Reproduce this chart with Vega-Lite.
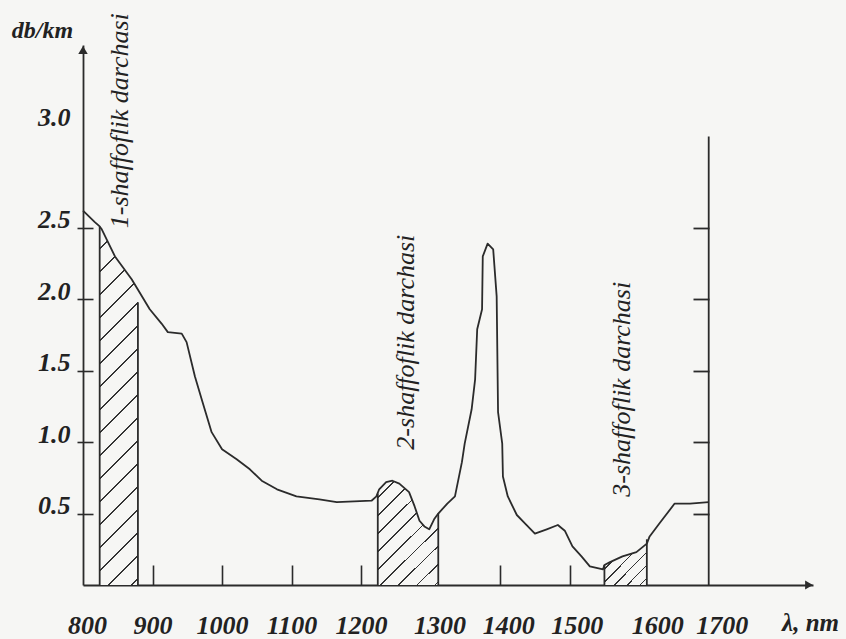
{
  "$schema": "https://vega.github.io/schema/vega-lite/v6.json",
  "width": 730,
  "height": 540,
  "autosize": "none",
  "padding": {"left": 83, "top": 45, "right": 33, "bottom": 54},
  "background": "#f6f6f4",
  "config": {"view": {"stroke": null}, "font": "Liberation Serif"},
  "datasets": {
    "curve": [
      {"nm": 800, "val": 2.62}, {"nm": 817, "val": 2.54}, {"nm": 824, "val": 2.51}, {"nm": 827, "val": 2.49},
      {"nm": 846, "val": 2.30}, {"nm": 870, "val": 2.14}, {"nm": 896, "val": 1.93}, {"nm": 913, "val": 1.83},
      {"nm": 922, "val": 1.77}, {"nm": 942, "val": 1.76}, {"nm": 949, "val": 1.70}, {"nm": 961, "val": 1.46},
      {"nm": 972, "val": 1.28}, {"nm": 985, "val": 1.07}, {"nm": 1000, "val": 0.95}, {"nm": 1021, "val": 0.88},
      {"nm": 1040, "val": 0.81}, {"nm": 1057, "val": 0.73}, {"nm": 1079, "val": 0.67}, {"nm": 1107, "val": 0.62},
      {"nm": 1140, "val": 0.60}, {"nm": 1165, "val": 0.58}, {"nm": 1215, "val": 0.59}, {"nm": 1222, "val": 0.62},
      {"nm": 1226, "val": 0.67}, {"nm": 1236, "val": 0.72}, {"nm": 1245, "val": 0.73}, {"nm": 1255, "val": 0.71},
      {"nm": 1269, "val": 0.65}, {"nm": 1277, "val": 0.55}, {"nm": 1284, "val": 0.45}, {"nm": 1291, "val": 0.41},
      {"nm": 1298, "val": 0.39}, {"nm": 1305, "val": 0.46}, {"nm": 1311, "val": 0.50}, {"nm": 1324, "val": 0.57},
      {"nm": 1335, "val": 0.62}, {"nm": 1345, "val": 0.86}, {"nm": 1349, "val": 0.99}, {"nm": 1359, "val": 1.23},
      {"nm": 1364, "val": 1.44}, {"nm": 1367, "val": 1.79}, {"nm": 1374, "val": 1.93}, {"nm": 1375, "val": 2.30},
      {"nm": 1382, "val": 2.39}, {"nm": 1390, "val": 2.35}, {"nm": 1395, "val": 2.02}, {"nm": 1397, "val": 1.21},
      {"nm": 1403, "val": 0.99}, {"nm": 1404, "val": 0.76}, {"nm": 1411, "val": 0.62}, {"nm": 1424, "val": 0.49},
      {"nm": 1436, "val": 0.43}, {"nm": 1450, "val": 0.36}, {"nm": 1467, "val": 0.39}, {"nm": 1483, "val": 0.42},
      {"nm": 1493, "val": 0.38}, {"nm": 1504, "val": 0.27}, {"nm": 1517, "val": 0.20}, {"nm": 1529, "val": 0.13},
      {"nm": 1548, "val": 0.11}, {"nm": 1550, "val": 0.14}, {"nm": 1558, "val": 0.16}, {"nm": 1576, "val": 0.20},
      {"nm": 1596, "val": 0.23}, {"nm": 1611, "val": 0.29}, {"nm": 1615, "val": 0.34}, {"nm": 1629, "val": 0.43},
      {"nm": 1651, "val": 0.57}, {"nm": 1673, "val": 0.57}, {"nm": 1700, "val": 0.58}
    ],
    "windows": [
      {"win": 1, "nm": 824, "val": 2.51}, {"win": 1, "nm": 827, "val": 2.49}, {"win": 1, "nm": 846, "val": 2.30},
      {"win": 1, "nm": 870, "val": 2.14}, {"win": 1, "nm": 879, "val": 2.07},
      {"win": 2, "nm": 1224, "val": 0.64}, {"win": 2, "nm": 1226, "val": 0.67}, {"win": 2, "nm": 1236, "val": 0.72},
      {"win": 2, "nm": 1245, "val": 0.73}, {"win": 2, "nm": 1255, "val": 0.71}, {"win": 2, "nm": 1269, "val": 0.65},
      {"win": 2, "nm": 1277, "val": 0.55}, {"win": 2, "nm": 1284, "val": 0.45}, {"win": 2, "nm": 1291, "val": 0.41},
      {"win": 2, "nm": 1298, "val": 0.39}, {"win": 2, "nm": 1305, "val": 0.46}, {"win": 2, "nm": 1311, "val": 0.50},
      {"win": 3, "nm": 1550, "val": 0.14}, {"win": 3, "nm": 1558, "val": 0.16}, {"win": 3, "nm": 1576, "val": 0.20},
      {"win": 3, "nm": 1596, "val": 0.23}, {"win": 3, "nm": 1611, "val": 0.29}
    ],
    "edges": [
      {"nm": 824, "top": 2.51}, {"nm": 879, "top": 1.98}, {"nm": 1224, "top": 0.64},
      {"nm": 1311, "top": 0.50}, {"nm": 1550, "top": 0.14}, {"nm": 1611, "top": 0.32}
    ],
    "notes": [
      {"nm": 853, "val": 3.25, "text": "1-shaffoflik darchasi"},
      {"nm": 1265, "val": 1.70, "text": "2-shaffoflik darchasi"},
      {"nm": 1575, "val": 1.37, "text": "3-shaffoflik darchasi"}
    ],
    "arrows": [
      {"dir": "up", "nm": 800, "val": 3.78},
      {"dir": "right", "nm": 1850, "val": 0}
    ]
  },
  "layer": [
    {
      "data": {"name": "windows"},
      "transform": [{"filter": "datum.win == 1"}],
      "mark": {"type": "area", "stroke": null, "fill": {"gradient": "linear", "x1": 0, "y1": 0, "x2": 0.117, "y2": 1.094, "stops": [
        {"offset": 0, "color": "#f6f6f4"},
        {"offset": 0.053, "color": "#f6f6f4"}, {"offset": 0.053, "color": "#333333"}, {"offset": 0.058, "color": "#333333"}, {"offset": 0.058, "color": "#f6f6f4"},
        {"offset": 0.111, "color": "#f6f6f4"}, {"offset": 0.111, "color": "#333333"}, {"offset": 0.116, "color": "#333333"}, {"offset": 0.116, "color": "#f6f6f4"},
        {"offset": 0.169, "color": "#f6f6f4"}, {"offset": 0.169, "color": "#333333"}, {"offset": 0.174, "color": "#333333"}, {"offset": 0.174, "color": "#f6f6f4"},
        {"offset": 0.227, "color": "#f6f6f4"}, {"offset": 0.227, "color": "#333333"}, {"offset": 0.232, "color": "#333333"}, {"offset": 0.232, "color": "#f6f6f4"},
        {"offset": 0.285, "color": "#f6f6f4"}, {"offset": 0.285, "color": "#333333"}, {"offset": 0.290, "color": "#333333"}, {"offset": 0.290, "color": "#f6f6f4"},
        {"offset": 0.343, "color": "#f6f6f4"}, {"offset": 0.343, "color": "#333333"}, {"offset": 0.348, "color": "#333333"}, {"offset": 0.348, "color": "#f6f6f4"},
        {"offset": 0.401, "color": "#f6f6f4"}, {"offset": 0.401, "color": "#333333"}, {"offset": 0.406, "color": "#333333"}, {"offset": 0.406, "color": "#f6f6f4"},
        {"offset": 0.459, "color": "#f6f6f4"}, {"offset": 0.459, "color": "#333333"}, {"offset": 0.464, "color": "#333333"}, {"offset": 0.464, "color": "#f6f6f4"},
        {"offset": 0.517, "color": "#f6f6f4"}, {"offset": 0.517, "color": "#333333"}, {"offset": 0.522, "color": "#333333"}, {"offset": 0.522, "color": "#f6f6f4"},
        {"offset": 0.575, "color": "#f6f6f4"}, {"offset": 0.575, "color": "#333333"}, {"offset": 0.580, "color": "#333333"}, {"offset": 0.580, "color": "#f6f6f4"},
        {"offset": 0.633, "color": "#f6f6f4"}, {"offset": 0.633, "color": "#333333"}, {"offset": 0.638, "color": "#333333"}, {"offset": 0.638, "color": "#f6f6f4"},
        {"offset": 0.691, "color": "#f6f6f4"}, {"offset": 0.691, "color": "#333333"}, {"offset": 0.696, "color": "#333333"}, {"offset": 0.696, "color": "#f6f6f4"},
        {"offset": 0.749, "color": "#f6f6f4"}, {"offset": 0.749, "color": "#333333"}, {"offset": 0.754, "color": "#333333"}, {"offset": 0.754, "color": "#f6f6f4"},
        {"offset": 0.807, "color": "#f6f6f4"}, {"offset": 0.807, "color": "#333333"}, {"offset": 0.812, "color": "#333333"}, {"offset": 0.812, "color": "#f6f6f4"},
        {"offset": 0.865, "color": "#f6f6f4"}, {"offset": 0.865, "color": "#333333"}, {"offset": 0.870, "color": "#333333"}, {"offset": 0.870, "color": "#f6f6f4"},
        {"offset": 0.923, "color": "#f6f6f4"}, {"offset": 0.923, "color": "#333333"}, {"offset": 0.928, "color": "#333333"}, {"offset": 0.928, "color": "#f6f6f4"},
        {"offset": 0.981, "color": "#f6f6f4"}, {"offset": 0.981, "color": "#333333"}, {"offset": 0.986, "color": "#333333"}, {"offset": 0.986, "color": "#f6f6f4"},
        {"offset": 1, "color": "#f6f6f4"}
      ]}},
      "encoding": {
        "x": {"field": "nm", "type": "quantitative", "scale": {"domain": [800, 1850], "nice": false, "zero": false}, "axis": null},
        "y": {"field": "val", "type": "quantitative", "scale": {"domain": [0, 3.78], "nice": false}, "axis": null}
      }
    },
    {
      "data": {"name": "windows"},
      "transform": [{"filter": "datum.win == 2"}],
      "mark": {"type": "area", "stroke": null, "fill": {"gradient": "linear", "x1": 0, "y1": 0, "x2": 0.680, "y2": 1.184, "stops": [
        {"offset": 0, "color": "#f6f6f4"},
        {"offset": 0.099, "color": "#f6f6f4"}, {"offset": 0.099, "color": "#333333"}, {"offset": 0.110, "color": "#333333"}, {"offset": 0.110, "color": "#f6f6f4"},
        {"offset": 0.208, "color": "#f6f6f4"}, {"offset": 0.208, "color": "#333333"}, {"offset": 0.219, "color": "#333333"}, {"offset": 0.219, "color": "#f6f6f4"},
        {"offset": 0.318, "color": "#f6f6f4"}, {"offset": 0.318, "color": "#333333"}, {"offset": 0.329, "color": "#333333"}, {"offset": 0.329, "color": "#f6f6f4"},
        {"offset": 0.427, "color": "#f6f6f4"}, {"offset": 0.427, "color": "#333333"}, {"offset": 0.438, "color": "#333333"}, {"offset": 0.438, "color": "#f6f6f4"},
        {"offset": 0.537, "color": "#f6f6f4"}, {"offset": 0.537, "color": "#333333"}, {"offset": 0.548, "color": "#333333"}, {"offset": 0.548, "color": "#f6f6f4"},
        {"offset": 0.647, "color": "#f6f6f4"}, {"offset": 0.647, "color": "#333333"}, {"offset": 0.658, "color": "#333333"}, {"offset": 0.658, "color": "#f6f6f4"},
        {"offset": 0.756, "color": "#f6f6f4"}, {"offset": 0.756, "color": "#333333"}, {"offset": 0.767, "color": "#333333"}, {"offset": 0.767, "color": "#f6f6f4"},
        {"offset": 0.866, "color": "#f6f6f4"}, {"offset": 0.866, "color": "#333333"}, {"offset": 0.877, "color": "#333333"}, {"offset": 0.877, "color": "#f6f6f4"},
        {"offset": 0.975, "color": "#f6f6f4"}, {"offset": 0.975, "color": "#333333"}, {"offset": 0.986, "color": "#333333"}, {"offset": 0.986, "color": "#f6f6f4"},
        {"offset": 1, "color": "#f6f6f4"}
      ]}},
      "encoding": {
        "x": {"field": "nm", "type": "quantitative", "scale": {"domain": [800, 1850], "nice": false, "zero": false}, "axis": null},
        "y": {"field": "val", "type": "quantitative", "scale": {"domain": [0, 3.78], "nice": false}, "axis": null}
      }
    },
    {
      "data": {"name": "windows"},
      "transform": [{"filter": "datum.win == 3"}],
      "mark": {"type": "area", "stroke": null, "fill": {"gradient": "linear", "x1": 0, "y1": 0, "x2": 1.013, "y2": 0.987, "stops": [
        {"offset": 0, "color": "#f6f6f4"},
        {"offset": 0.133, "color": "#f6f6f4"}, {"offset": 0.133, "color": "#333333"}, {"offset": 0.155, "color": "#333333"}, {"offset": 0.155, "color": "#f6f6f4"},
        {"offset": 0.288, "color": "#f6f6f4"}, {"offset": 0.288, "color": "#333333"}, {"offset": 0.310, "color": "#333333"}, {"offset": 0.310, "color": "#f6f6f4"},
        {"offset": 0.443, "color": "#f6f6f4"}, {"offset": 0.443, "color": "#333333"}, {"offset": 0.465, "color": "#333333"}, {"offset": 0.465, "color": "#f6f6f4"},
        {"offset": 0.598, "color": "#f6f6f4"}, {"offset": 0.598, "color": "#333333"}, {"offset": 0.620, "color": "#333333"}, {"offset": 0.620, "color": "#f6f6f4"},
        {"offset": 0.753, "color": "#f6f6f4"}, {"offset": 0.753, "color": "#333333"}, {"offset": 0.775, "color": "#333333"}, {"offset": 0.775, "color": "#f6f6f4"},
        {"offset": 0.908, "color": "#f6f6f4"}, {"offset": 0.908, "color": "#333333"}, {"offset": 0.930, "color": "#333333"}, {"offset": 0.930, "color": "#f6f6f4"},
        {"offset": 1, "color": "#f6f6f4"}
      ]}},
      "encoding": {
        "x": {"field": "nm", "type": "quantitative", "scale": {"domain": [800, 1850], "nice": false, "zero": false}, "axis": null},
        "y": {"field": "val", "type": "quantitative", "scale": {"domain": [0, 3.78], "nice": false}, "axis": null}
      }
    },
    {
      "data": {"name": "edges"},
      "mark": {"type": "rule", "color": "#2b2b2b", "strokeWidth": 1.8},
      "encoding": {
        "x": {"field": "nm", "type": "quantitative", "scale": {"domain": [800, 1850], "nice": false, "zero": false},
          "axis": {"orient": "bottom", "offset": -20, "values": [900, 1000, 1100, 1200, 1400, 1500], "domain": false, "labels": false, "ticks": true, "tickSize": 20, "tickWidth": 1.6, "tickColor": "#2b2b2b", "grid": false, "title": null}},
        "y": {"field": "top", "type": "quantitative", "scale": {"domain": [0, 3.78], "nice": false},
          "axis": {"orient": "left", "offset": -10, "values": [0.5, 1, 1.5, 2, 2.5], "domain": false, "labels": false, "ticks": true, "tickSize": 10, "tickWidth": 1.6, "tickColor": "#2b2b2b", "grid": false, "title": null}},
        "y2": {"datum": 0}
      }
    },
    {
      "data": {"values": [{"nm": 1700, "top": 3.14}]},
      "mark": {"type": "rule", "color": "#2b2b2b", "strokeWidth": 1.8},
      "encoding": {
        "x": {"field": "nm", "type": "quantitative", "scale": {"domain": [800, 1850], "nice": false, "zero": false}, "axis": null},
        "y": {"field": "top", "type": "quantitative", "scale": {"domain": [0, 3.78], "nice": false},
          "axis": {"orient": "left", "offset": -626, "values": [0.5, 1, 1.5, 2, 2.5], "domain": false, "labels": false, "ticks": true, "tickSize": 16, "tickWidth": 1.8, "tickColor": "#2b2b2b", "grid": false, "title": null}},
        "y2": {"datum": 0}
      }
    },
    {
      "data": {"name": "curve"},
      "mark": {"type": "line", "color": "#2b2b2b", "strokeWidth": 1.8, "strokeJoin": "round"},
      "encoding": {
        "x": {"field": "nm", "type": "quantitative", "scale": {"domain": [800, 1850], "nice": false, "zero": false},
          "axis": {"orient": "bottom", "values": [800, 900, 1000, 1100, 1200, 1300, 1400, 1500, 1600, 1700], "format": "d",
            "domain": true, "domainColor": "#2b2b2b", "domainWidth": 1.8, "ticks": false, "grid": false,
            "labelFont": "Liberation Serif", "labelFontSize": 26, "labelFontStyle": "italic", "labelFontWeight": "bold", "labelColor": "#222222",
            "labelBaseline": "alphabetic", "labelPadding": 48, "labelFlush": false, "labelOverlap": false, "labelBound": false,
            "labelOffset": {"condition": [
              {"test": "datum.value == 800", "value": 4},
              {"test": "datum.value == 1300", "value": 9},
              {"test": "datum.value == 1400", "value": 8},
              {"test": "datum.value == 1500", "value": 7},
              {"test": "datum.value == 1600", "value": 18},
              {"test": "datum.value == 1700", "value": 13}
            ], "value": 0},
            "title": "λ, nm", "titleX": 727, "titleY": 37, "titleAlign": "center", "titleBaseline": "middle", "titleAngle": 0,
            "titleFont": "Liberation Serif", "titleFontSize": 25, "titleFontStyle": "italic", "titleFontWeight": "bold", "titleColor": "#222222"}},
        "y": {"field": "val", "type": "quantitative", "scale": {"domain": [0, 3.78], "nice": false},
          "axis": {"orient": "left", "values": [0.5, 1, 1.5, 2, 2.5, 3], "format": ".1f",
            "domain": true, "domainColor": "#2b2b2b", "domainWidth": 1.8, "ticks": true, "tickSize": 6, "tickWidth": 1.6, "tickColor": "#2b2b2b",
            "tickOpacity": {"condition": {"test": "datum.value == 3", "value": 0}, "value": 1}, "grid": false,
            "labelFont": "Liberation Serif", "labelFontSize": 26, "labelFontStyle": "italic", "labelFontWeight": "bold", "labelColor": "#222222",
            "labelPadding": 7, "labelFlush": false, "labelOverlap": false, "labelBound": false,
            "labelOffset": {"condition": {"test": "datum.value == 3", "value": -39}, "value": -8},
            "title": "db/km", "titleX": -41, "titleY": -15, "titleAlign": "center", "titleBaseline": "middle", "titleAngle": 0,
            "titleFont": "Liberation Serif", "titleFontSize": 24, "titleFontStyle": "italic", "titleFontWeight": "bold", "titleColor": "#222222"}}
      }
    },
    {
      "data": {"name": "notes"},
      "mark": {"type": "text", "angle": 270, "align": "center", "baseline": "middle", "font": "Liberation Serif", "fontSize": 26, "fontStyle": "italic", "color": "#222222"},
      "encoding": {
        "x": {"field": "nm", "type": "quantitative", "scale": {"domain": [800, 1850], "nice": false, "zero": false}, "axis": null},
        "y": {"field": "val", "type": "quantitative", "scale": {"domain": [0, 3.78], "nice": false}, "axis": null},
        "text": {"field": "text"}
      }
    },
    {
      "data": {"name": "arrows"},
      "transform": [{"filter": "datum.dir == 'up'"}],
      "mark": {"type": "point", "shape": "triangle-up", "filled": true, "color": "#2b2b2b", "size": 90, "opacity": 1, "yOffset": 5, "clip": false},
      "encoding": {
        "x": {"field": "nm", "type": "quantitative", "scale": {"domain": [800, 1850], "nice": false, "zero": false}, "axis": null},
        "y": {"field": "val", "type": "quantitative", "scale": {"domain": [0, 3.78], "nice": false}, "axis": null}
      }
    },
    {
      "data": {"name": "arrows"},
      "transform": [{"filter": "datum.dir == 'right'"}],
      "mark": {"type": "point", "shape": "triangle-right", "filled": true, "color": "#2b2b2b", "size": 80, "opacity": 1, "xOffset": -4},
      "encoding": {
        "x": {"field": "nm", "type": "quantitative", "scale": {"domain": [800, 1850], "nice": false, "zero": false}, "axis": null},
        "y": {"field": "val", "type": "quantitative", "scale": {"domain": [0, 3.78], "nice": false}, "axis": null}
      }
    }
  ],
  "resolve": {"axis": {"x": "independent", "y": "independent"}}
}
